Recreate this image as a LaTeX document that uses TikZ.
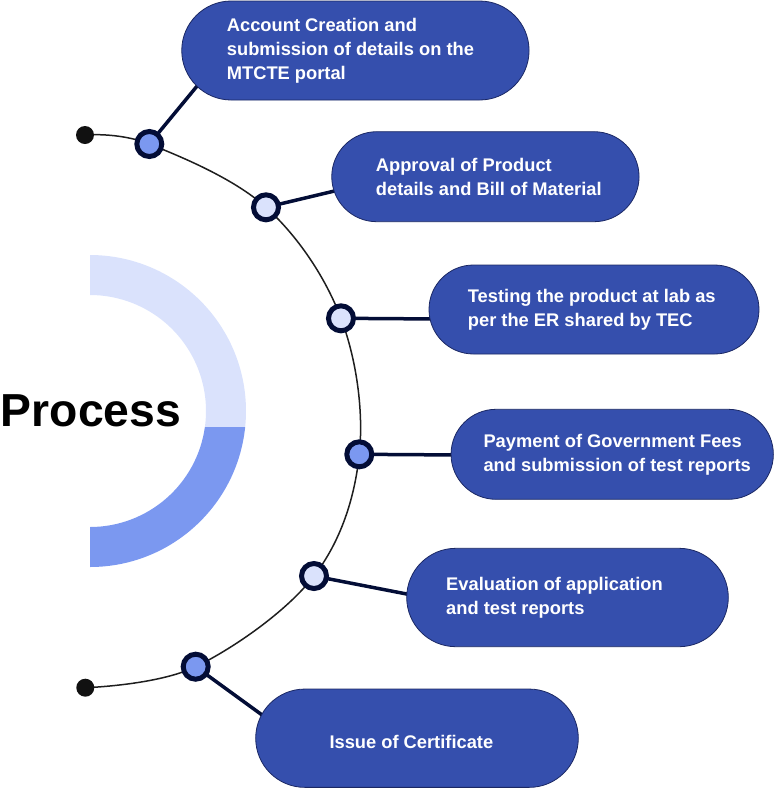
\documentclass[tikz,border=0pt]{standalone}
\usepackage{fontspec}
\setmainfont{Liberation Sans}
\usetikzlibrary{calc}
\definecolor{boxblue}{RGB}{53,79,173}
\definecolor{boxedge}{RGB}{27,40,100}
\definecolor{navy}{RGB}{3,13,54}
\definecolor{lightfill}{RGB}{218,226,252}
\definecolor{bluefill}{RGB}{123,152,240}
\definecolor{arcline}{RGB}{30,30,30}
\definecolor{dotblack}{RGB}{17,17,17}
\tikzset{
  pill/.style={draw=boxedge, line width=0.8pt, fill=boxblue, inner sep=0pt},
  pilltext/.style={anchor=west, inner sep=0pt, align=left, text=white,
    font=\fontsize{18.3}{24}\selectfont\bfseries},
  stepnode/.style={circle, draw=navy, line width=5pt, minimum size=25pt, inner sep=0pt},
  stepblue/.style={stepnode, fill=bluefill},
  steplight/.style={stepnode, fill=lightfill},
  enddot/.style={circle, fill=dotblack, minimum size=18pt, inner sep=0pt},
  link/.style={draw=navy, line width=3.5pt},
  mainarc/.style={draw=arcline, line width=1.5pt},
}
\begin{document}
\begin{tikzpicture}[x=1pt,y=-1pt]
\useasboundingbox (0,0) rectangle (774,788);
% half ring
\coordinate (rc) at (90,411);
\fill[lightfill] ($(rc)+(-90:156)$) arc[start angle=-90, end angle=5.89, radius=156]
  -- ($(rc)+(7.93:116)$) arc[start angle=7.93, end angle=-90, radius=116] -- cycle;
\fill[bluefill] ($(rc)+(5.89:156)$) arc[start angle=5.89, end angle=90, radius=156]
  -- ($(rc)+(90:116)$) arc[start angle=90, end angle=7.93, radius=116] -- cycle;
\node[inner sep=0pt, font=\fontsize{46.3}{50}\selectfont\bfseries, text=black] (title) at (91,411) {Process};
% points on the arc
\coordinate (ta) at (85,135);
\coordinate (p1) at (149.3,144);
\coordinate (p2) at (266,207.3);
\coordinate (p3) at (341,318.3);
\coordinate (p4) at (359.3,454.3);
\coordinate (p5) at (314,576);
\coordinate (p6) at (195.7,666.7);
\coordinate (tb) at (85.3,687.7);
\draw[mainarc] plot[smooth, tension=0.6] coordinates {(ta) (p1) (p2) (p3) (p4) (p5) (p6) (tb)};
% connector ends inside the boxes
\coordinate (e1) at (207,74);
\coordinate (e2) at (345,188.5);
\coordinate (e3) at (440,319);
\coordinate (e4) at (462,455);
\coordinate (e5) at (417,596);
\coordinate (e6) at (269,720);
\draw[link] (p1) -- (e1);
\draw[link] (p2) -- (e2);
\draw[link] (p3) -- (e3);
\draw[link] (p4) -- (e4);
\draw[link] (p5) -- (e5);
\draw[link] (p6) -- (e6);
% boxes
\node[pill, minimum width=347.3pt, minimum height=99pt, rounded corners=49.5pt] (b1) at (355.4,50.5) {};
\node[pill, minimum width=307.3pt, minimum height=90pt, rounded corners=45pt] (b2) at (485.4,176.7) {};
\node[pill, minimum width=330pt, minimum height=89pt, rounded corners=44.5pt] (b3) at (594,309.5) {};
\node[pill, minimum width=322.3pt, minimum height=90pt, rounded corners=45pt] (b4) at (612.2,454.3) {};
\node[pill, minimum width=321.6pt, minimum height=98.4pt, rounded corners=49.2pt] (b5) at (567.5,597.5) {};
\node[pill, minimum width=322.6pt, minimum height=98.3pt, rounded corners=49.1pt] (b6) at (417,738.2) {};
\node[pilltext] (t1) at (226.7,50.5) {Account Creation and\\submission of details on the\\MTCTE portal};
\node[pilltext] (t2) at (375.7,176.7) {Approval of Product\\details and Bill of Material};
\node[pilltext] (t3) at (467.7,309.5) {Testing the product at lab as\\per the ER shared by TEC};
\node[pilltext] (t4) at (483.3,454.3) {Payment of Government Fees\\and submission of test reports};
\node[pilltext] (t5) at (446,597.5) {Evaluation of application\\and test reports};
\node[pilltext] (t6) at (329.3,741.5) {Issue of Certificate};
% step markers
\node[enddot] (d1) at (ta) {};
\node[enddot] (d2) at (tb) {};
\node[stepblue] (n1) at (p1) {};
\node[steplight] (n2) at (p2) {};
\node[steplight] (n3) at (p3) {};
\node[stepblue] (n4) at (p4) {};
\node[steplight] (n5) at (p5) {};
\node[stepblue] (n6) at (p6) {};
\end{tikzpicture}
\end{document}
